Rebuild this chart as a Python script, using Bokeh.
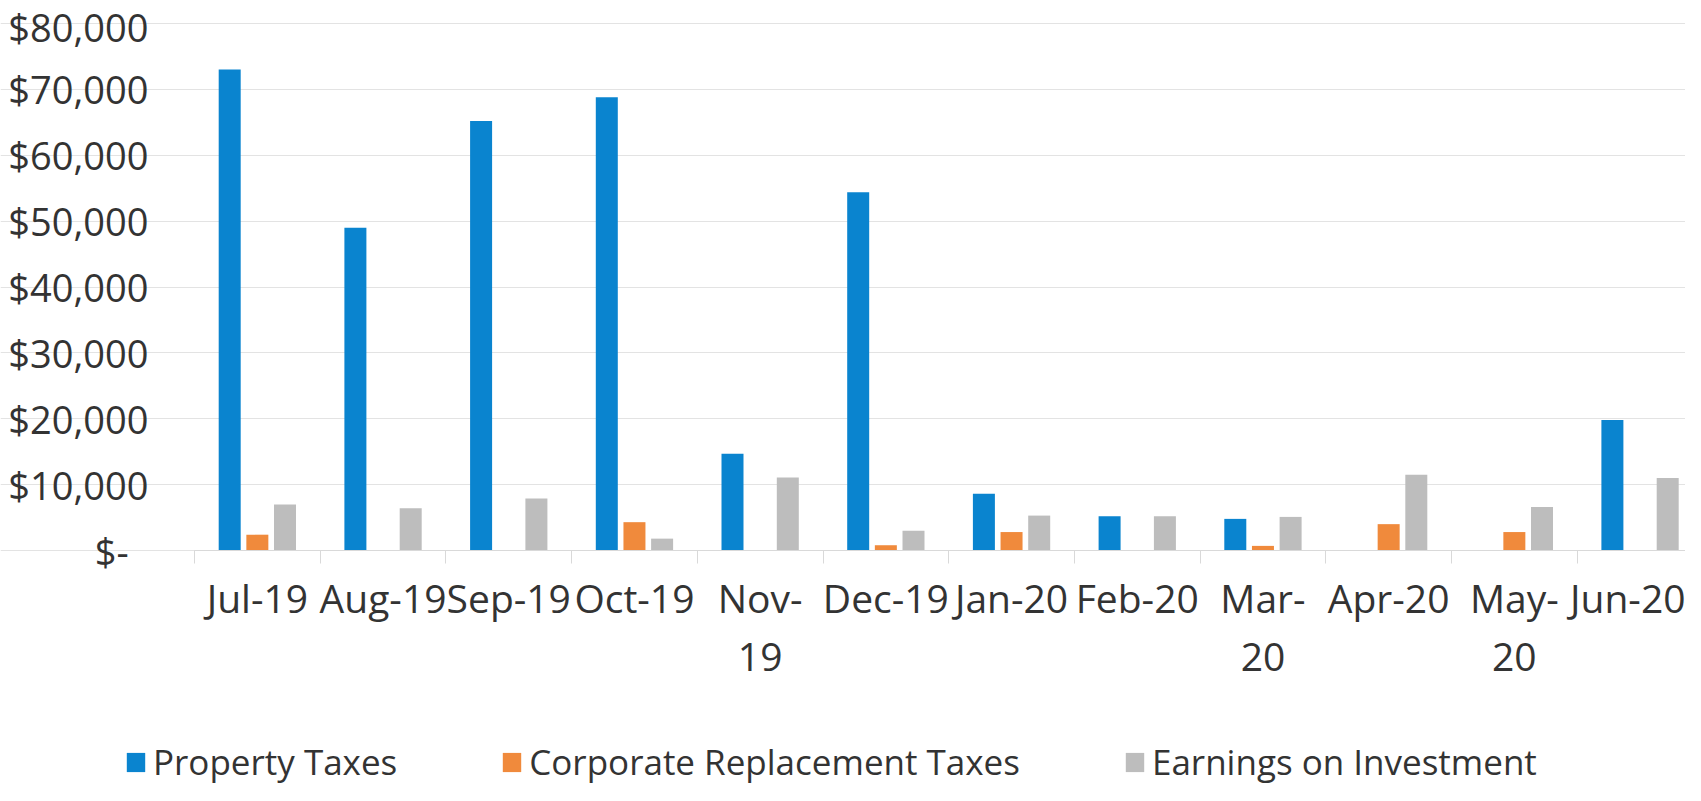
from bokeh.plotting import figure
from bokeh.models import ColumnDataSource, Range1d, FixedTicker, Legend, LegendItem
from bokeh.embed import file_html
from bokeh.resources import INLINE

months = ["Jul-19", "Aug-19", "Sep-19", "Oct-19", "Nov-19", "Dec-19",
          "Jan-20", "Feb-20", "Mar-20", "Apr-20", "May-20", "Jun-20"]
month_labels = ["Jul-19", "Aug-19", "Sep-19", "Oct-19", "Nov-\n19", "Dec-19",
                "Jan-20", "Feb-20", "Mar-\n20", "Apr-20", "May-\n20", "Jun-20"]
property_taxes = [73000, 49000, 65200, 68800, 14700, 54400,
                  8600, 5200, 4800, 0, 0, 19800]
corporate_replacement = [2400, 0, 0, 4300, 0, 800,
                         2800, 0, 700, 4000, 2800, 0]
earnings_investment = [7000, 6400, 7900, 1800, 11100, 3000,
                       5300, 5200, 5100, 11500, 6600, 11000]
y_ticks = [0, 10000, 20000, 30000, 40000, 50000, 60000, 70000, 80000]
y_tick_labels = ["$-\u00a0\u00a0", "$10,000", "$20,000", "$30,000", "$40,000",
                 "$50,000", "$60,000", "$70,000", "$80,000"]
series_names = ["Property Taxes", "Corporate Replacement Taxes", "Earnings on Investment"]
colors = ["#0A84CF", "#F08A3C", "#BDBDBD"]

FONT = "Open Sans"
TXT = "#333333"

W, H = 1685, 785
LEFT, TOP, ZERO_Y = 194, 23, 550          # screen positions of plot area
CAT_PX = 125.7                             # pixels per month
YMAX = 80000
px_per_unit = (ZERO_Y - TOP) / YMAX

n = len(months)
x_start = -0.5 - LEFT / CAT_PX
x_end = -0.5 + (W - LEFT) / CAT_PX
y_end = YMAX + TOP / px_per_unit
y_start = -(H - ZERO_Y) / px_per_unit

idx = list(range(n))
offsets = [-0.22, 0.0, 0.22]
series = [property_taxes, corporate_replacement, earnings_investment]

p = figure(width=W, height=H, output_backend="svg", toolbar_location=None,
           x_range=Range1d(x_start, x_end), y_range=Range1d(y_start, y_end),
           min_border=0)
p.outline_line_color = None
p.background_fill_color = "white"

renderers = []
for vals, off, col in zip(series, offsets, colors):
    src = ColumnDataSource(dict(x=[i + off for i in idx], top=vals))
    r = p.vbar(x="x", top="top", bottom=0, width=0.175, source=src,
               fill_color=col, line_color=None)
    renderers.append(r)

# x axis, drawn at y = 0
xa = p.xaxis[0]
xa.fixed_location = 0
xa.bounds = (-0.5, n - 0.5)
xa.ticker = FixedTicker(ticks=idx, minor_ticks=[i - 0.5 for i in range(n + 1)])
xa.major_label_overrides = {i: lab for i, lab in zip(idx, month_labels)}
xa.major_tick_out = 0
xa.major_tick_in = 0
xa.minor_tick_out = 13
xa.minor_tick_in = 0
xa.minor_tick_line_color = "#D9D9D9"
xa.axis_line_color = "#D9D9D9"
xa.major_label_text_font = FONT
xa.major_label_text_font_size = "39px"
xa.major_label_text_color = TXT
xa.major_label_text_line_height = 1.1
xa.major_label_standoff = 7

# y axis, drawn at the left edge of the first month
ya = p.yaxis[0]
ya.fixed_location = -0.5
ya.ticker = FixedTicker(ticks=y_ticks, minor_ticks=[])
ya.major_label_overrides = {t: lab for t, lab in zip(y_ticks, y_tick_labels)}
ya.axis_line_color = None
ya.major_tick_out = 0
ya.major_tick_in = 0
ya.minor_tick_out = 0
ya.minor_tick_in = 0
ya.major_label_text_font = FONT
ya.major_label_text_font_size = "38px"
ya.major_label_text_color = TXT
ya.major_label_standoff = 46

p.xgrid.grid_line_color = None
p.ygrid.grid_line_color = "#E3E3E3"
p.ygrid.grid_line_width = 1
p.ygrid.bounds = (-0.5, n - 0.5)

legend = Legend(items=[LegendItem(label=nm, renderers=[r]) for nm, r in zip(series_names, renderers)],
                orientation="horizontal", location=(124, 0),
                label_text_font=FONT, label_text_font_size="35px", label_text_color=TXT,
                glyph_width=23, glyph_height=24, label_standoff=6, spacing=103,
                padding=0, margin=0, border_line_color=None, background_fill_alpha=0)
p.add_layout(legend, "center")

open("out.html", "w").write(file_html(p, INLINE))
